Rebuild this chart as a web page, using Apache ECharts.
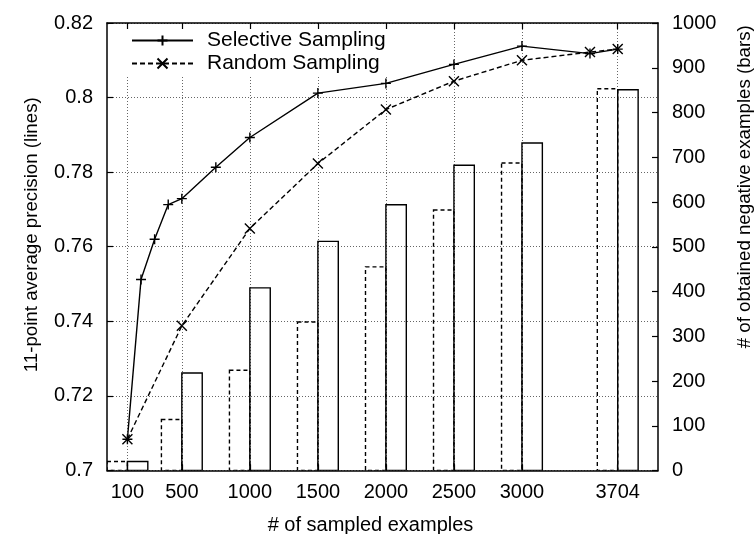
<!DOCTYPE html>
<html>
<head>
<meta charset="utf-8">
<script src="https://cdn.jsdelivr.net/npm/echarts@6/dist/echarts.min.js"></script>
<style>
  html, body { margin: 0; padding: 0; background: #fff; }
  #chart { width: 756px; height: 534px; }
</style>
</head>
<body>
<div id="chart"></div>
<script>
// Sample counts where the precision curves were measured
const selectiveSamples = [100, 200, 300, 400, 500, 750, 1000, 1500, 2000, 2500, 3000, 3500, 3704];
const selectivePrecision = [0.7084, 0.7512, 0.7620, 0.7713, 0.7729, 0.7813, 0.7893, 0.8012, 0.8038, 0.8089, 0.8138, 0.8118, 0.8130];

const randomSamples = [100, 500, 1000, 1500, 2000, 2500, 3000, 3500, 3704];
const randomPrecision = [0.7084, 0.7388, 0.7649, 0.7823, 0.7968, 0.8044, 0.8100, 0.8122, 0.8130];

// Negative examples obtained at each checkpoint (bars)
const barSamples = [100, 500, 1000, 1500, 2000, 2500, 3000, 3704];
const selectiveNegatives = [20, 218, 408, 512, 594, 682, 732, 851];
const randomNegatives = [20, 114, 224, 332, 455, 582, 687, 853];

// Tick positions on the sample axis
const xTicks = [100, 500, 1000, 1500, 2000, 2500, 3000, 3704];

const BOX_WIDTH = 150; // width of each box, in samples
const FONT = 'Liberation Sans, Arial, Helvetica, sans-serif';

const pairs = (xs, ys) => xs.map((x, i) => [x, ys[i]]);
const plain = (v) => String(v);

// Box drawn beside its sample count: side = +1 to the right, -1 to the left
function boxRenderer(side, dash) {
  return function (params, api) {
    const x = api.value(0);
    const h = api.value(1);
    const x0 = side > 0 ? x : x - BOX_WIDTH;
    const x1 = side > 0 ? x + BOX_WIDTH : x;
    const pTop = api.coord([x0, h]);
    const pBot = api.coord([x1, 0]);
    return {
      type: 'rect',
      shape: { x: pTop[0], y: pTop[1], width: pBot[0] - pTop[0], height: pBot[1] - pTop[1] },
      style: { fill: 'none', stroke: '#000', lineWidth: 1.4, lineDash: dash }
    };
  };
}

const PLUS = 'path://M5,0L5,10M0,5L10,5';
const CROSS = 'path://M0,0L10,10M10,0L0,10';

const gridLine = { show: true, lineStyle: { color: '#666', width: 1, type: [1, 2] } };
const frameLine = { show: true, onZero: false, lineStyle: { color: '#000', width: 1.5 } };
const labelStyle = { color: '#000', fontSize: 20, fontFamily: FONT };

const chart = echarts.init(document.getElementById('chart'), null, { renderer: 'canvas' });

chart.setOption({
  animation: false,
  backgroundColor: '#fff',
  grid: { left: 107, right: 98, top: 23, bottom: 63.5, outerBoundsMode: 'none', containLabel: false },
  legend: {
    data: ['Selective Sampling', 'Random Sampling'],
    orient: 'vertical',
    left: 109,
    top: 24,
    z: 1,
    padding: [6, 12, 3, 22],
    itemGap: 2,
    itemWidth: 61,
    itemHeight: 12.5,
    backgroundColor: '#fff',
    textStyle: { color: '#000', fontSize: 21, fontFamily: FONT, padding: [0, 0, 0, 9] }
  },
  xAxis: [
    {
      type: 'value',
      position: 'bottom',
      min: -50,
      max: 4000,
      z: 0,
      axisLine: frameLine,
      axisTick: { show: true, inside: true, length: 6, customValues: xTicks, lineStyle: { color: '#000', width: 1.2 } },
      axisLabel: { ...labelStyle, margin: 12, customValues: xTicks, formatter: plain },
      splitLine: gridLine,
      name: '# of sampled examples',
      nameLocation: 'middle',
      nameGap: 45,
      nameTextStyle: { color: '#000', fontSize: 20, fontFamily: FONT, padding: [0, 24, 0, 0] }
    },
    {
      type: 'value',
      position: 'top',
      min: -50,
      max: 4000,
      z: 4,
      axisLine: frameLine,
      axisTick: { show: true, inside: true, length: 6, customValues: xTicks, lineStyle: { color: '#000', width: 1.2 } },
      axisLabel: { show: false },
      splitLine: { show: false }
    }
  ],
  yAxis: [
    {
      type: 'value',
      position: 'left',
      min: 0.7,
      max: 0.82,
      interval: 0.02,
      z: 0,
      axisLine: frameLine,
      axisTick: { show: true, inside: true, length: 6, lineStyle: { color: '#000', width: 1.2 } },
      axisLabel: { ...labelStyle, margin: 14 },
      splitLine: gridLine,
      name: '11-point average precision (lines)',
      nameLocation: 'middle',
      nameRotate: 90,
      nameGap: 66,
      nameTextStyle: { color: '#000', fontSize: 18.7, fontFamily: FONT, padding: [0, 0, 0, 24] }
    },
    {
      type: 'value',
      position: 'right',
      min: 0,
      max: 1000,
      interval: 100,
      z: 4,
      axisLine: frameLine,
      axisTick: { show: true, inside: true, length: 6, lineStyle: { color: '#000', width: 1.2 } },
      axisLabel: { ...labelStyle, margin: 14, formatter: plain },
      splitLine: { show: false },
      name: '# of obtained negative examples (bars)',
      nameLocation: 'middle',
      nameRotate: 90,
      nameGap: 77,
      nameTextStyle: { color: '#000', fontSize: 18.7, fontFamily: FONT, padding: [0, 0, 0, 120] }
    }
  ],
  series: [
    {
      name: 'Selective Sampling',
      type: 'line',
      xAxisIndex: 0,
      yAxisIndex: 0,
      z: 5,
      data: pairs(selectiveSamples, selectivePrecision),
      symbol: PLUS,
      symbolSize: 10,
      showAllSymbol: true,
      lineStyle: { color: '#000', width: 1.4, type: 'solid' },
      itemStyle: { color: '#000', borderColor: '#000', borderWidth: 1.4 }
    },
    {
      name: 'Random Sampling',
      type: 'line',
      xAxisIndex: 0,
      yAxisIndex: 0,
      z: 5,
      data: pairs(randomSamples, randomPrecision),
      symbol: CROSS,
      symbolSize: 10,
      showAllSymbol: true,
      lineStyle: { color: '#000', width: 1.4, type: [5, 3] },
      itemStyle: { color: '#000', borderColor: '#000', borderWidth: 1.4 }
    },
    {
      name: 'selective-boxes',
      type: 'custom',
      xAxisIndex: 0,
      yAxisIndex: 1,
      z: 3,
      clip: true,
      renderItem: boxRenderer(1, null),
      data: pairs(barSamples, selectiveNegatives)
    },
    {
      name: 'random-boxes',
      type: 'custom',
      xAxisIndex: 0,
      yAxisIndex: 1,
      z: 3,
      clip: true,
      renderItem: boxRenderer(-1, [4, 3]),
      data: pairs(barSamples, randomNegatives)
    }
  ]
});
</script>
</body>
</html>
